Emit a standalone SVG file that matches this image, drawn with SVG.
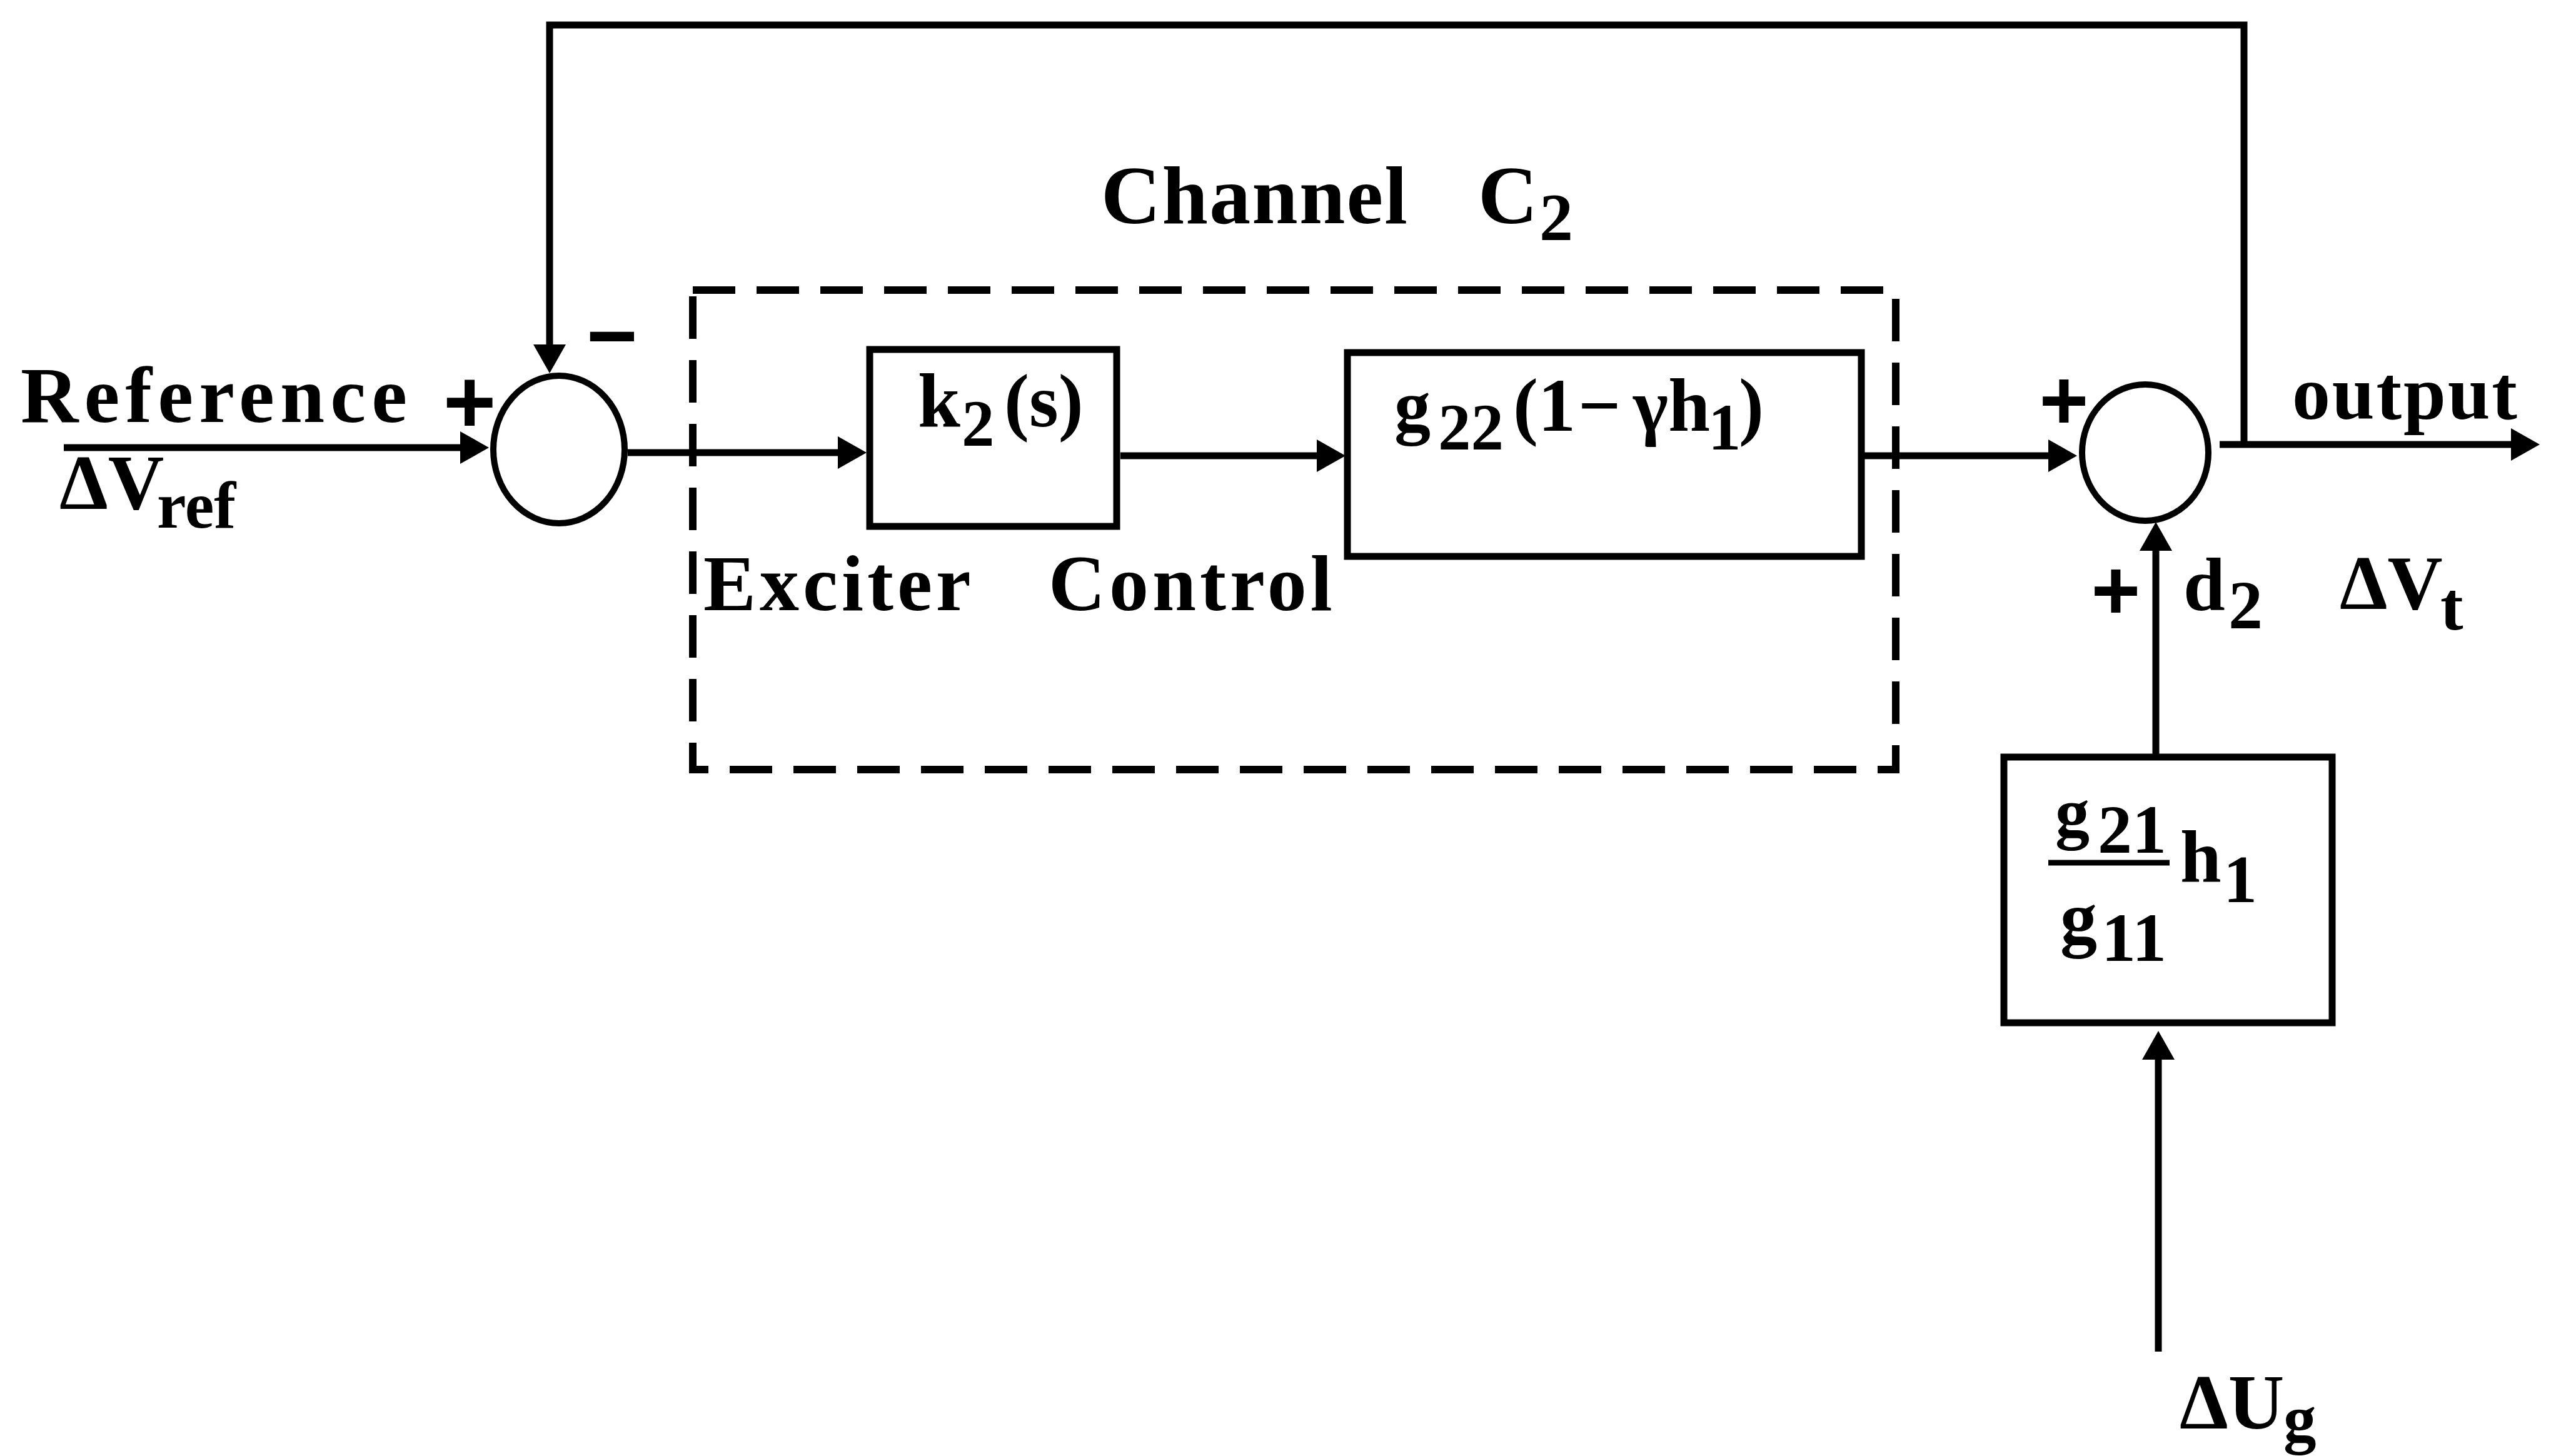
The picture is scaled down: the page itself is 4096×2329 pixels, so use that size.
<svg xmlns="http://www.w3.org/2000/svg" width="4096" height="2329" viewBox="0 0 4096 2329">
<defs>
<style>
.ln{fill:none;stroke:#000;stroke-width:11;stroke-linecap:butt;stroke-linejoin:miter}
.blk{fill:#fff;stroke:#000;stroke-width:11}
.sum{fill:#fff;stroke:#000;stroke-width:10}
.dash{fill:none;stroke:#000;stroke-width:12;stroke-dasharray:68 34}
text{font-family:"Liberation Serif","Times New Roman",serif;font-weight:bold;fill:#000}
text.sign{font-family:"Liberation Sans",Arial,sans-serif;text-anchor:middle}
</style>
<marker id="arr" markerUnits="userSpaceOnUse" markerWidth="46" markerHeight="52" refX="0" refY="26" orient="auto" viewBox="0 0 46 52">
<path d="M0,0 L46,26 L0,52 Z" fill="#000"/>
</marker>
</defs>
<rect width="4096" height="2329" fill="#fff"/>

<!-- channel C2 boundary -->
<g id="channel-c2">
<rect class="dash" x="1108" y="464" width="1924" height="767"/>
<text x="1761" y="357" font-size="132"><tspan textLength="490" lengthAdjust="spacing">Channel</tspan><tspan x="2364">C</tspan><tspan x="2462" y="384" font-size="108">2</tspan></text>
<text y="976" font-size="126" letter-spacing="6"><tspan x="1125">Exciter</tspan><tspan x="1677">Control</tspan></text>
</g>

<!-- signal lines -->
<g id="connectors">
<path class="ln" d="M102,716 H736" marker-end="url(#arr)"/>
<path class="ln" d="M1004,724 H1340" marker-end="url(#arr)"/>
<path class="ln" d="M1792,729 H2106" marker-end="url(#arr)"/>
<path class="ln" d="M2982,729 H3276" marker-end="url(#arr)"/>
<path class="ln" d="M3550,711 H4016" marker-end="url(#arr)"/>
<path class="ln" d="M3589,711 V40 H879 V551" marker-end="url(#arr)"/>
<path class="ln" d="M3448,1206 V881" marker-end="url(#arr)"/>
<path class="ln" d="M3452,2162 V1695" marker-end="url(#arr)"/>
</g>

<!-- input summing junction -->
<g id="sum-ref">
<ellipse class="sum" cx="894" cy="719" rx="105" ry="118"/>
<text class="sign" x="751" y="692" font-size="145">+</text>
<text class="sign" x="979" y="585" font-size="140">−</text>
</g>

<!-- output summing junction -->
<g id="sum-out">
<ellipse class="sum" cx="3431" cy="724" rx="101" ry="109"/>
<text class="sign" x="3301" y="687" font-size="135">+</text>
<text class="sign" x="3384" y="991" font-size="135">+</text>
</g>

<!-- exciter controller -->
<g id="block-k2">
<rect class="blk" x="1391" y="559" width="395" height="283"/>
<text font-size="120"><tspan x="1468" y="682" font-size="122">k</tspan><tspan x="1538" y="713" font-size="105">2</tspan><tspan x="1606" y="682">(s)</tspan></text>
</g>

<!-- plant path -->
<g id="block-g22">
<rect class="blk" x="2155" y="564" width="822" height="326"/>
<text font-size="120"><tspan x="2230" y="688" font-size="116">g</tspan><tspan x="2300" y="719" font-size="105">22</tspan><tspan x="2420" y="689">(1</tspan><tspan x="2524" y="689">−</tspan><tspan x="2612" y="689">γh</tspan><tspan x="2732" y="719" font-size="105">1</tspan><tspan x="2781" y="689">)</tspan></text>
</g>

<!-- interaction path -->
<g id="block-g21">
<rect class="blk" x="3205" y="1211" width="525" height="425"/>
<text font-size="110"><tspan x="3287" y="1337">g</tspan><tspan x="3355" y="1364">21</tspan></text>
<line x1="3276" y1="1380" x2="3470" y2="1380" stroke="#000" stroke-width="9"/>
<text font-size="118"><tspan x="3487" y="1410">h</tspan><tspan x="3556" y="1443" font-size="108">1</tspan></text>
<text font-size="118"><tspan x="3295" y="1508">g</tspan><tspan x="3361" y="1537" font-size="110">11</tspan></text>
</g>

<!-- signal labels -->
<g id="labels">
<text x="33" y="675" font-size="128" textLength="618" lengthAdjust="spacing">Reference</text>
<text font-size="124"><tspan x="95" y="814">ΔV</tspan><tspan x="251" y="844" font-size="105">ref</tspan></text>
<text x="3666" y="670" font-size="122" textLength="360" lengthAdjust="spacing">output</text>
<text font-size="120"><tspan x="3492" y="976">d</tspan><tspan x="3564" y="1005" font-size="110">2</tspan></text>
<text font-size="122"><tspan x="3742" y="974">ΔV</tspan><tspan x="3903" y="1007" font-size="110">t</tspan></text>
<text font-size="124"><tspan x="3486" y="2285">ΔU</tspan><tspan x="3652" y="2305" font-size="105">g</tspan></text>
</g>
</svg>
